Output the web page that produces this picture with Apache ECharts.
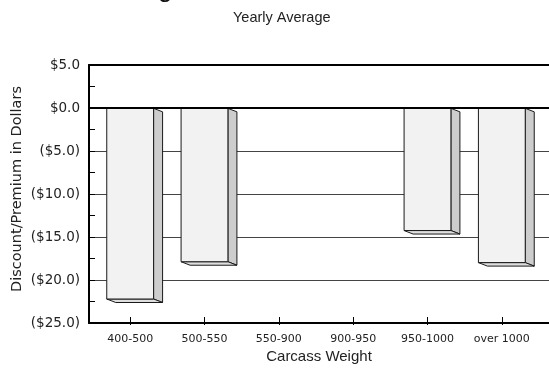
<!DOCTYPE html>
<html><head><meta charset="utf-8">
<script src="https://cdn.jsdelivr.net/npm/echarts@6/dist/echarts.min.js"></script>
<style>html,body{margin:0;padding:0;background:#fff}#c{width:549px;height:369px}</style>
</head><body><div id="c"></div>
<script>
const titleText = 'Carcass Weight Discounts';
const subtitleText = 'Yearly Average';
const categories = ['400-500','500-550','550-900','900-950','950-1000','over 1000'];
const values = [-22.0, -17.7, null, null, -14.1, -17.8];
const yMin = -25, yMax = 5, yStep = 5;
const yName = 'Discount/Premium in Dollars';
const xName = 'Carcass Weight';

function fmt(v){ return v < 0 ? '($' + Math.abs(v).toFixed(1) + ')' : '$' + v.toFixed(1); }

const chart = echarts.init(document.getElementById('c'), null, {renderer:'canvas'});
const DX = 9, DY = 3.5;
chart.setOption({
  animation:false,
  backgroundColor:'#fff',
  title:[
    {text:titleText, left:6, top:-28, textStyle:{fontFamily:'Liberation Sans', fontSize:26, fontWeight:'normal', color:'#111'}},
    {text:subtitleText, left:228, top:5, textStyle:{fontFamily:'Liberation Sans', fontSize:14.5, fontWeight:'normal', color:'#222'}}
  ],
  graphic:[{type:'text', x:17, y:189, rotation:Math.PI/2,
    style:{text:yName, font:'14.5px "DejaVu Sans"', fill:'#222', align:'center', verticalAlign:'middle'}}],
  grid:[
    {left:89, right:0, top:65, bottom:44},
    {left:93, width:446, top:65, bottom:44}
  ],
  xAxis:[
    {gridIndex:0, type:'value', min:0, max:1, position:'bottom',
     axisLine:{show:true, onZero:false, lineStyle:{color:'#000', width:2}}, axisTick:{show:false}, axisLabel:{show:false}, splitLine:{show:false},
     name:xName, nameLocation:'middle', nameGap:26,
     nameTextStyle:{fontFamily:'Liberation Sans', fontSize:15, color:'#222'}},
    {gridIndex:0, type:'value', min:0, max:1, position:'top',
     axisLine:{show:true, onZero:false, lineStyle:{color:'#000', width:2}}, axisTick:{show:false}, axisLabel:{show:false}, splitLine:{show:false}},
    {gridIndex:1, type:'category', data:categories, position:'bottom',
     axisLine:{show:false, onZero:false}, axisTick:{show:true, inside:true, alignWithLabel:true, length:8, lineStyle:{color:'#000', width:1}},
     axisLabel:{margin:9, fontFamily:'DejaVu Sans', fontSize:11, color:'#222'}, splitLine:{show:false}}
  ],
  yAxis:[
    {gridIndex:0, type:'value', min:yMin, max:yMax, interval:yStep,
     axisLine:{show:true, onZero:false, lineStyle:{color:'#000', width:2}},
     axisTick:{show:true, inside:true, length:6, lineStyle:{color:'#000'}},
     minorTick:{show:true, splitNumber:2, length:6, lineStyle:{color:'#000'}},
     axisLabel:{formatter:fmt, margin:9, fontFamily:'DejaVu Sans', fontSize:13.5, color:'#222'},
     splitLine:{show:true, lineStyle:{color:'#444', width:1}}},
    {gridIndex:1, type:'value', min:yMin, max:yMax, interval:yStep, show:false}
  ],
  series:[
    {type:'line', xAxisIndex:0, yAxisIndex:0, data:[], silent:true,
     markLine:{silent:true, symbol:['none','none'], label:{show:false},
       lineStyle:{color:'#000', width:2, type:'solid'}, data:[{yAxis:0}]}},
    {type:'custom', xAxisIndex:2, yAxisIndex:1, clip:false,
     data: values.map((v,i)=>[i, v == null ? '-' : v]),
     renderItem:function(params, api){
       const v = api.value(1);
       if (v == null || isNaN(v)) return null;
       const x = api.value(0);
       const t = api.coord([x, 0]);
       const b = api.coord([x, v]);
       const bw = api.size([1,0])[0] * 0.63;
       const L = t[0] - bw/2, R = t[0] + bw/2, T = t[1], B = b[1];
       const st = {stroke:'#1a1a1a', lineWidth:1};
       return {type:'group', children:[
         {type:'polygon', shape:{points:[[R,T],[R+DX,T+DY],[R+DX,B+DY],[R,B]]}, style:Object.assign({fill:'#cdcdcd'}, st)},
         {type:'polygon', shape:{points:[[L,B],[R,B],[R+DX,B+DY],[L+DX,B+DY]]}, style:Object.assign({fill:'#dedede'}, st)},
         {type:'rect', shape:{x:L, y:T, width:bw, height:B-T}, style:Object.assign({fill:'#f2f2f2'}, st)}
       ]};
     }}
  ]
});
</script></body></html>
